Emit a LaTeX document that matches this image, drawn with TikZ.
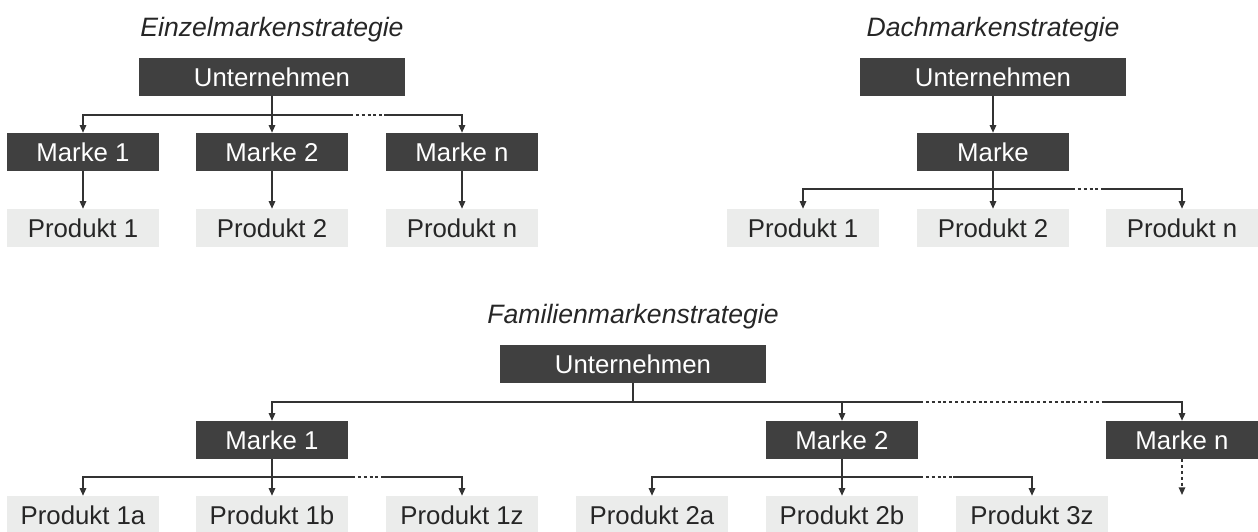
\documentclass[tikz,border=0pt]{standalone}
\usepackage{fontspec}
\setmainfont{Liberation Sans}
\definecolor{boxdark}{RGB}{64, 64, 64}
\definecolor{boxlight}{RGB}{235, 236, 235}
\definecolor{linegray}{RGB}{51, 51, 51}
\definecolor{textgray}{RGB}{38, 38, 38}
\usetikzlibrary{arrows.meta, positioning}

\begin{document}
\begin{tikzpicture}[
  x=0.03cm, y=-0.03cm,
  firmbox/.style={fill=boxdark, text=white, minimum width=7.98cm, minimum height=1.14cm, inner sep=0pt, font=\fontsize{22}{26}\selectfont},
  markbox/.style={fill=boxdark, text=white, minimum width=4.56cm, minimum height=1.14cm, inner sep=0pt, font=\fontsize{22}{26}\selectfont},
  prodbox/.style={fill=boxlight, text=textgray, minimum width=4.56cm, minimum height=1.14cm, inner sep=0pt, font=\fontsize{22}{26}\selectfont},
  titletext/.style={text=textgray, anchor=base, inner sep=0pt, font=\fontsize{22.7}{26}\selectfont\itshape},
  conn/.style={draw=linegray, line width=1.3pt},
  arr/.style={conn, -{Triangle[length=6.5pt, width=5.5pt]}},
  dotline/.style={dash pattern=on 2.6pt off 2.4pt}
]
  \useasboundingbox (0,0) rectangle (1258,532);

  % Einzelmarkenstrategie
  \node[titletext] (titleL) at (272, 36) {Einzelmarkenstrategie};
  \node[firmbox] (uL) at (272, 77) {Unternehmen};
  \node[markbox] (mL1) at (83, 152) {Marke 1};
  \node[markbox] (mL2) at (272, 152) {Marke 2};
  \node[markbox] (mLn) at (462, 152) {Marke n};
  \node[prodbox] (pL1) at (83, 228) {Produkt 1};
  \node[prodbox] (pL2) at (272, 228) {Produkt 2};
  \node[prodbox] (pLn) at (462, 228) {Produkt n};

  \coordinate (busL) at (272, 115);
  \coordinate (dotL1) at (350, 115);
  \coordinate (dotL2) at (384, 115);
  \draw[conn] (uL) -- (busL);
  \draw[arr] (busL) -| (mL1);
  \draw[arr] (busL) -- (mL2);
  \draw[conn] (busL) -- (dotL1);
  \draw[conn, dotline] (dotL1) -- (dotL2);
  \draw[arr] (dotL2) -| (mLn);
  \draw[arr] (mL1) -- (pL1);
  \draw[arr] (mL2) -- (pL2);
  \draw[arr] (mLn) -- (pLn);

  % Dachmarkenstrategie
  \node[titletext] (titleR) at (993, 36) {Dachmarkenstrategie};
  \node[firmbox] (uR) at (993, 77) {Unternehmen};
  \node[markbox] (mR) at (993, 152) {Marke};
  \node[prodbox] (pR1) at (803, 228) {Produkt 1};
  \node[prodbox] (pR2) at (993, 228) {Produkt 2};
  \node[prodbox] (pRn) at (1182, 228) {Produkt n};

  \coordinate (busR) at (993, 189);
  \coordinate (dotR1) at (1072, 189);
  \coordinate (dotR2) at (1104, 189);
  \draw[arr] (uR) -- (mR);
  \draw[conn] (mR) -- (busR);
  \draw[arr] (busR) -| (pR1);
  \draw[arr] (busR) -- (pR2);
  \draw[conn] (busR) -- (dotR1);
  \draw[conn, dotline] (dotR1) -- (dotR2);
  \draw[arr] (dotR2) -| (pRn);

  % Familienmarkenstrategie
  \node[titletext] (titleB) at (633, 323) {Familienmarkenstrategie};
  \node[firmbox] (uB) at (633, 364) {Unternehmen};
  \node[markbox] (mB1) at (272, 440) {Marke 1};
  \node[markbox] (mB2) at (842, 440) {Marke 2};
  \node[markbox] (mBn) at (1182, 440) {Marke n};
  \node[prodbox] (pB1a) at (83, 515) {Produkt 1a};
  \node[prodbox] (pB1b) at (272, 515) {Produkt 1b};
  \node[prodbox] (pB1z) at (462, 515) {Produkt 1z};
  \node[prodbox] (pB2a) at (652, 515) {Produkt 2a};
  \node[prodbox] (pB2b) at (842, 515) {Produkt 2b};
  \node[prodbox] (pB3z) at (1032, 515) {Produkt 3z};

  \coordinate (busB) at (633, 402);
  \coordinate (dotB1) at (920, 402);
  \coordinate (dotB2) at (1105, 402);
  \draw[conn] (uB) -- (busB);
  \draw[arr] (busB) -| (mB1);
  \draw[arr] (busB) -| (mB2);
  \draw[conn] (busB) -- (dotB1);
  \draw[conn, dotline] (dotB1) -- (dotB2);
  \draw[arr] (dotB2) -| (mBn);

  \coordinate (busB1) at (272, 477);
  \coordinate (dotB3) at (352, 477);
  \coordinate (dotB4) at (384, 477);
  \draw[conn] (mB1) -- (busB1);
  \draw[arr] (busB1) -| (pB1a);
  \draw[arr] (busB1) -- (pB1b);
  \draw[conn] (busB1) -- (dotB3);
  \draw[conn, dotline] (dotB3) -- (dotB4);
  \draw[arr] (dotB4) -| (pB1z);

  \coordinate (busB2) at (842, 477);
  \coordinate (dotB5) at (920, 477);
  \coordinate (dotB6) at (953, 477);
  \draw[conn] (mB2) -- (busB2);
  \draw[arr] (busB2) -| (pB2a);
  \draw[arr] (busB2) -- (pB2b);
  \draw[conn] (busB2) -- (dotB5);
  \draw[conn, dotline] (dotB5) -- (dotB6);
  \draw[arr] (dotB6) -| (pB3z);

  \coordinate (endBn) at (1182, 495);
  \draw[arr, dotline] (mBn) -- (endBn);
\end{tikzpicture}
\end{document}
